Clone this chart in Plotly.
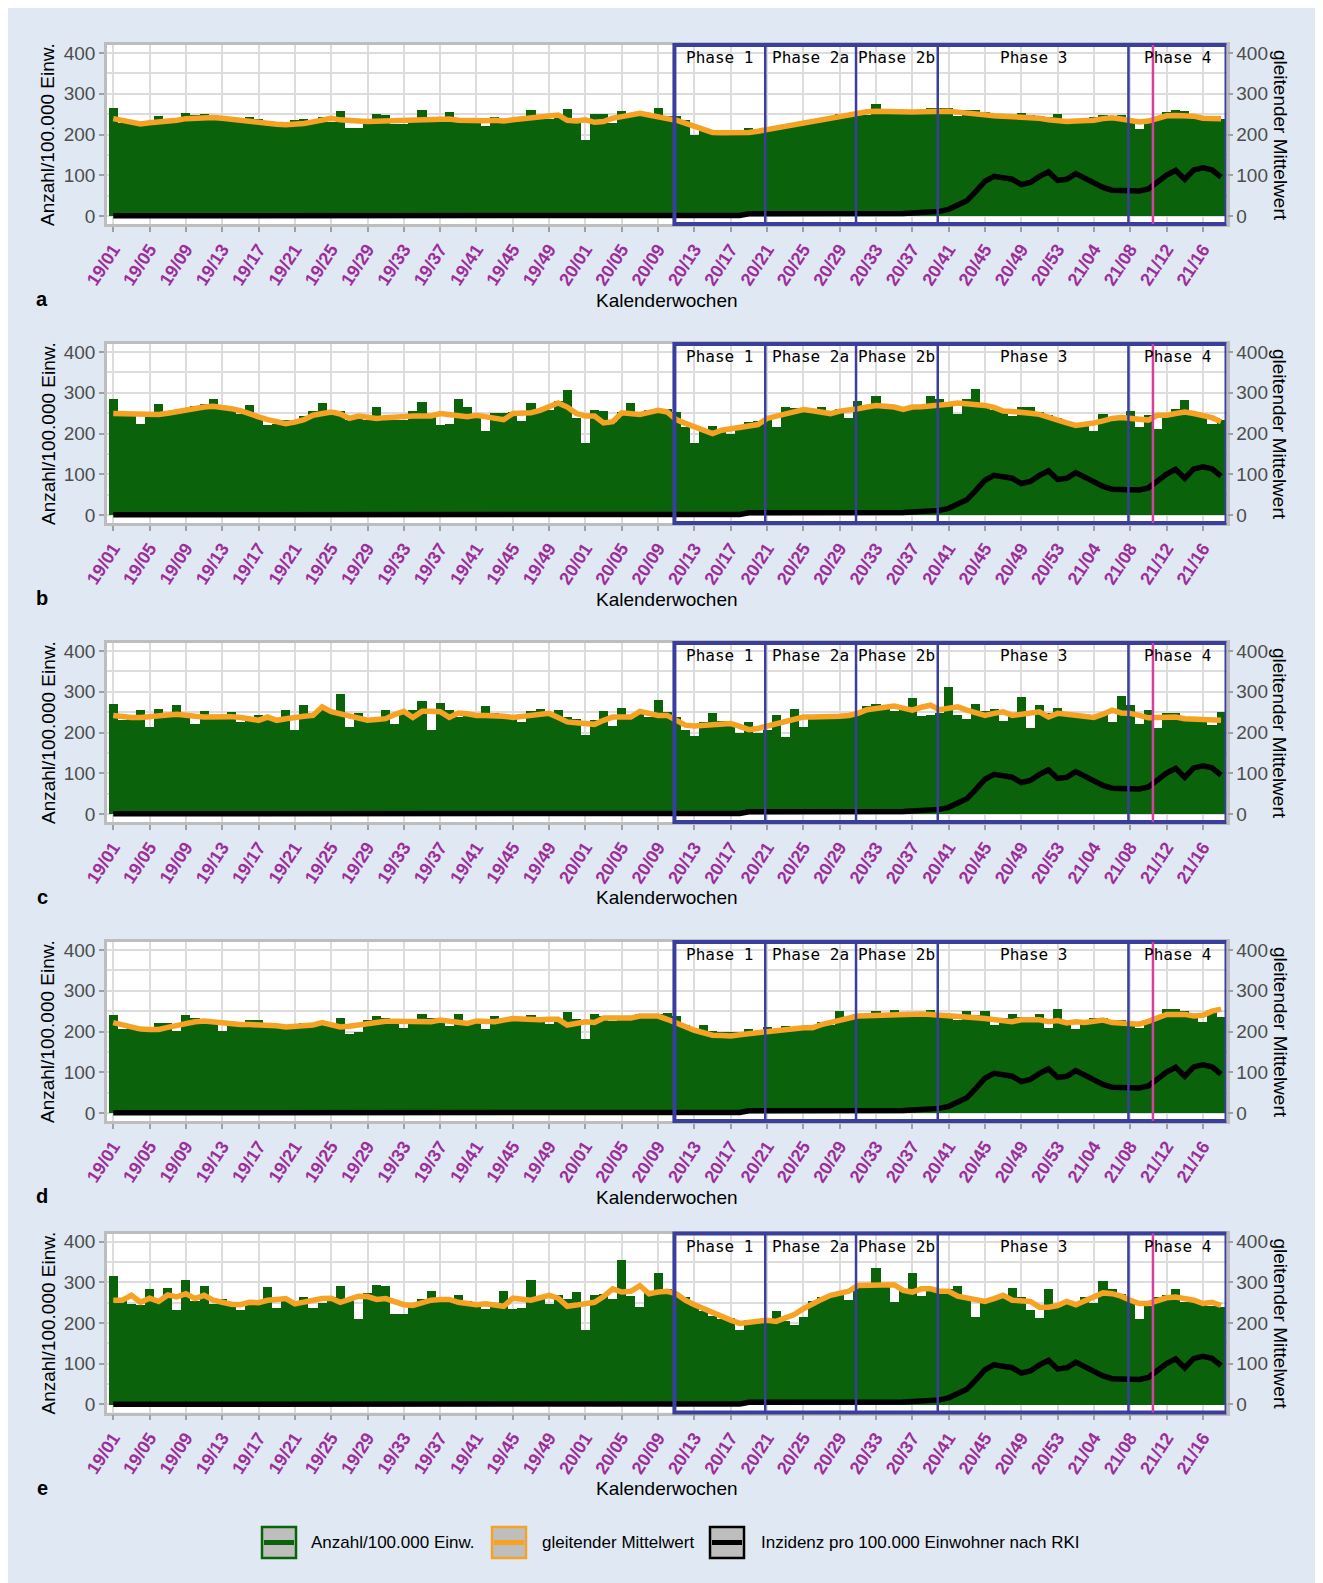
import plotly.graph_objects as go

# ---------------- data ----------------
weeks = ([f"19/{w:02d}" for w in range(1, 53)] +
         [f"20/{w:02d}" for w in range(1, 54)] +
         [f"21/{w:02d}" for w in range(1, 19)])
tick_weeks = weeks[::4]

panel_letters = ["a", "b", "c", "d", "e"]

anzahl_a = [266, 228, 228, 226, 230, 245, 231, 230, 253, 249,
            250, 247, 239, 236, 235, 243, 238, 231, 230, 230,
            235, 239, 235, 242, 231, 257, 217, 217, 231, 251,
            247, 227, 227, 231, 261, 233, 232, 255, 231, 231,
            232, 220, 243, 229, 231, 235, 260, 245, 239, 245,
            262, 235, 186, 250, 250, 229, 258, 250, 256, 250,
            264, 245, 246, 235, 200, 216, 207, 207, 207, 210,
            216, 211, 215, 219, 223, 227, 231, 235, 239, 243,
            251, 251, 247, 247, 276, 260, 260, 251, 255, 255,
            265, 264, 264, 245, 260, 260, 255, 251, 251, 247,
            253, 247, 245, 242, 251, 235, 235, 237, 242, 247,
            242, 247, 235, 213, 235, 237, 255, 260, 257, 243,
            243, 242, 239]
mittel_a = [239, 235, 230, 226, 229, 231, 231, 235, 239, 241,
            243, 242, 240, 237, 235, 233, 231, 228, 225, 224,
            225, 227, 231, 235, 240, 236, 233, 233, 232, 233,
            234, 235, 235, 235, 237, 237, 240, 238, 235, 234,
            236, 234, 235, 233, 236, 239, 241, 243, 245, 248,
            235, 233, 236, 230, 232, 240, 244, 247, 252, 248,
            245, 239, 235, 227, 219, 210, 205, 204, 204, 204,
            205, 208, 212, 216, 220, 224, 228, 232, 236, 240,
            244, 248, 255, 256, 257, 256, 254, 253, 255, 256,
            257, 257, 257, 255, 252, 249, 247, 246, 245, 244,
            243, 242, 240, 236, 233, 232, 233, 233, 235, 239,
            241, 238, 235, 231, 233, 240, 246, 247, 247, 245,
            240, 239, 239]

anzahl_b = [284, 245, 245, 223, 249, 272, 253, 257, 261, 267,
            272, 286, 265, 264, 249, 269, 239, 220, 224, 234,
            226, 242, 255, 274, 257, 255, 234, 239, 234, 266,
            239, 233, 233, 255, 277, 249, 221, 224, 286, 264,
            249, 207, 251, 251, 253, 231, 275, 261, 257, 280,
            308, 237, 177, 257, 255, 229, 253, 274, 253, 257,
            260, 260, 253, 216, 177, 208, 218, 208, 200, 219,
            229, 231, 237, 216, 266, 263, 261, 257, 264, 249,
            260, 239, 279, 265, 292, 269, 267, 257, 267, 269,
            291, 284, 273, 247, 284, 309, 273, 257, 253, 242,
            264, 264, 253, 245, 237, 229, 223, 220, 207, 249,
            241, 239, 256, 216, 245, 211, 249, 261, 282, 253,
            245, 224, 233]
mittel_b = [249, 248, 247, 247, 247, 247, 250, 254, 259, 262,
            265, 267, 265, 261, 256, 247, 241, 234, 228, 224,
            228, 234, 245, 250, 253, 248, 237, 243, 240, 237,
            239, 241, 242, 243, 243, 243, 249, 246, 243, 241,
            245, 241, 237, 234, 249, 250, 251, 257, 265, 275,
            265, 249, 243, 243, 226, 229, 251, 249, 247, 252,
            257, 253, 234, 225, 216, 208, 200, 208, 211, 214,
            220, 222, 237, 243, 249, 254, 259, 256, 253, 249,
            255, 257, 261, 265, 269, 267, 265, 259, 265, 266,
            267, 269, 272, 275, 273, 272, 269, 264, 255, 254,
            253, 250, 247, 239, 231, 226, 220, 222, 226, 231,
            237, 239, 237, 233, 233, 245, 245, 249, 253, 249,
            245, 239, 229]

anzahl_c = [269, 230, 238, 255, 214, 259, 238, 267, 247, 222,
            252, 238, 238, 251, 226, 238, 242, 234, 230, 256,
            206, 267, 247, 255, 255, 294, 214, 247, 234, 234,
            255, 222, 251, 255, 278, 206, 273, 255, 238, 247,
            247, 265, 247, 242, 238, 226, 252, 257, 247, 255,
            238, 234, 193, 230, 252, 216, 260, 238, 247, 238,
            279, 251, 238, 206, 191, 226, 248, 229, 226, 199,
            226, 199, 206, 242, 188, 257, 214, 238, 238, 242,
            238, 242, 247, 265, 271, 267, 252, 259, 285, 240,
            242, 247, 312, 242, 234, 271, 253, 259, 229, 247,
            287, 212, 267, 247, 260, 245, 247, 242, 238, 247,
            226, 290, 267, 222, 255, 210, 248, 249, 238, 234,
            234, 218, 251]
mittel_c = [242, 238, 237, 237, 240, 242, 243, 245, 244, 240,
            238, 239, 240, 239, 237, 235, 230, 238, 230, 234,
            238, 240, 242, 263, 251, 246, 242, 236, 230, 232,
            234, 244, 252, 237, 252, 252, 251, 237, 248, 246,
            242, 242, 242, 240, 237, 240, 242, 245, 247, 237,
            226, 224, 222, 220, 230, 238, 238, 238, 252, 247,
            242, 242, 230, 218, 216, 217, 218, 220, 222, 215,
            207, 210, 216, 222, 227, 232, 238, 238, 238, 238,
            240, 242, 247, 256, 260, 263, 265, 260, 255, 262,
            267, 256, 260, 263, 255, 247, 242, 247, 251, 242,
            245, 248, 251, 238, 247, 245, 242, 240, 237, 245,
            255, 248, 247, 242, 236, 237, 238, 238, 234, 233,
            232, 231, 230]

anzahl_d = [240, 207, 211, 201, 203, 220, 220, 202, 240, 234,
            228, 229, 201, 220, 220, 229, 229, 216, 211, 211,
            216, 221, 217, 222, 221, 233, 193, 198, 228, 237,
            234, 224, 209, 224, 244, 234, 224, 213, 242, 224,
            228, 205, 238, 224, 232, 232, 240, 230, 218, 229,
            248, 230, 181, 244, 238, 225, 236, 236, 244, 244,
            244, 246, 238, 216, 203, 216, 201, 199, 198, 199,
            205, 201, 211, 207, 214, 209, 211, 216, 224, 215,
            251, 236, 242, 242, 250, 240, 252, 236, 240, 244,
            253, 244, 240, 228, 250, 240, 250, 217, 232, 242,
            236, 232, 244, 209, 256, 224, 207, 224, 234, 232,
            229, 229, 224, 209, 224, 236, 256, 256, 250, 240,
            224, 254, 236]
mittel_d = [222, 216, 211, 206, 205, 205, 210, 215, 220, 224,
            226, 224, 220, 217, 217, 217, 217, 216, 214, 211,
            212, 214, 216, 222, 216, 211, 213, 216, 220, 224,
            225, 225, 224, 224, 224, 224, 228, 226, 224, 220,
            226, 224, 224, 228, 232, 231, 229, 229, 230, 230,
            216, 220, 224, 222, 233, 233, 233, 233, 238, 238,
            238, 230, 220, 212, 203, 197, 191, 190, 189, 192,
            195, 198, 201, 203, 205, 207, 209, 209, 217, 223,
            228, 233, 238, 239, 240, 241, 242, 243, 244, 243,
            242, 241, 240, 238, 236, 234, 232, 230, 229, 224,
            229, 229, 229, 224, 227, 221, 224, 222, 225, 228,
            222, 220, 218, 218, 225, 233, 242, 242, 242, 238,
            240, 250, 255]

anzahl_e = [318, 256, 247, 245, 286, 256, 288, 233, 306, 256,
            291, 249, 261, 243, 233, 251, 253, 290, 239, 258,
            256, 266, 237, 251, 266, 292, 256, 212, 276, 294,
            291, 224, 224, 243, 260, 280, 260, 260, 269, 256,
            254, 235, 247, 280, 235, 239, 307, 261, 249, 269,
            260, 278, 184, 269, 272, 260, 356, 268, 241, 276,
            323, 284, 272, 264, 244, 231, 219, 211, 213, 185,
            209, 207, 207, 231, 207, 196, 215, 256, 264, 264,
            274, 258, 290, 296, 337, 292, 253, 284, 323, 268,
            284, 280, 284, 291, 268, 215, 261, 261, 270, 288,
            265, 234, 213, 284, 240, 247, 251, 265, 251, 304,
            286, 272, 256, 211, 244, 264, 270, 286, 254, 256,
            248, 244, 240]
mittel_e = [256, 256, 268, 251, 261, 253, 269, 264, 272, 260,
            268, 256, 251, 246, 245, 251, 250, 256, 258, 260,
            247, 252, 258, 260, 261, 251, 258, 266, 265, 258,
            260, 252, 245, 243, 250, 256, 258, 258, 251, 248,
            245, 247, 244, 241, 261, 258, 256, 262, 268, 261,
            241, 244, 247, 251, 265, 284, 276, 278, 292, 272,
            276, 278, 272, 256, 245, 235, 225, 215, 207, 199,
            201, 204, 207, 204, 212, 221, 235, 248, 258, 268,
            273, 278, 292, 292, 292, 293, 294, 280, 276, 284,
            284, 278, 278, 266, 261, 256, 253, 260, 268, 256,
            255, 253, 239, 239, 243, 253, 245, 255, 264, 274,
            272, 266, 256, 248, 248, 256, 262, 264, 260, 256,
            248, 251, 243]

inzidenz = [0, 0, 0, 0, 0, 0, 0, 0, 0, 0,
            0, 0, 0, 0, 0, 0, 0, 0, 0, 0,
            0, 0, 0, 0, 0, 0, 0, 0, 0, 0,
            0, 0, 0, 0, 0, 0, 0, 0, 0, 0,
            0, 0, 0, 0, 0, 0, 0, 0, 0, 0,
            0, 0, 0, 0, 0, 0, 0, 0, 0, 0,
            0, 0, 1, 1, 1, 1, 1, 1, 1, 1,
            5, 5, 5, 5, 5, 5, 4, 4, 3, 3,
            3, 3, 4, 4, 5, 5, 6, 6, 7, 8,
            10, 11, 16, 25, 37, 60, 85, 97, 92, 90,
            77, 82, 97, 108, 87, 90, 104, 92, 79, 70,
            63, 63, 64, 61, 66, 84, 100, 112, 90, 113,
            118, 113, 95]

phase_names = ["Phase 1", "Phase 2a", "Phase 2b", "Phase 3", "Phase 4"]
phase_start_weeks = ["20/11", "20/21", "20/31", "20/40", "21/08"]
marker_week = "21/11"

series_names = ["Anzahl/100.000 Einw.", "gleitender Mittelwert",
                "Inzidenz pro 100.000 Einwohner nach RKI"]

anzahl = [anzahl_a, anzahl_b, anzahl_c, anzahl_d, anzahl_e]
mittel = [mittel_a, mittel_b, mittel_c, mittel_d, mittel_e]

# ---------------- style ----------------
W, H = 1323, 1583
OFF = 8  # page body margin offset
FONT = "Liberation Sans, Arial, sans-serif"
GREEN = "#0A630A"
ORANGE = "#F6A224"
BLACK = "#000000"
BLUE = "#3A3E9C"
MAGENTA = "#D5409E"
PURPLE = "#9B2E9B"
BG = "#DFE8F3"
GRID = "#DCDCDC"
BORDER = "#BDBDBD"
TICKGRAY = "#4D4D4D"

tops = [45 - OFF, 344 - OFF, 643 - OFF, 942 - OFF, 1233.5 - OFF]
PH = 179
X0, X1 = 107 - OFF, 1226.5 - OFF
XR = [-0.69, 122.6]


def fx(px):
    return px / W


def fy(py):
    return 1 - py / H


# phase boundaries in category-index units
phase_left = [weeks.index(w) - 0.2 for w in phase_start_weeks]
phase_right = len(weeks) - 1 + 0.6
phase_edges = phase_left + [phase_right]
marker_x = weeks.index(marker_week) - 0.5

fig = go.Figure()
layout = dict(width=W, height=H, margin=dict(l=0, r=0, t=0, b=0, pad=0, autoexpand=False),
              paper_bgcolor=BG, plot_bgcolor="white", bargap=0,
              showlegend=False, font=dict(family=FONT, color="black"))
shapes = []
annotations = []

for k in range(5):
    n = k + 1
    xa = "x" if n == 1 else f"x{n}"
    ya = "y" if n == 1 else f"y{n}"
    ya2 = f"y{n + 5}"
    T = tops[k]

    fig.add_trace(go.Bar(x=weeks, y=anzahl[k], marker=dict(color=GREEN, line=dict(width=0)),
                         xaxis=xa, yaxis=ya, name=series_names[0]))
    fig.add_trace(go.Scatter(x=weeks, y=mittel[k], mode="lines",
                             line=dict(color=ORANGE, width=5.5), xaxis=xa, yaxis=ya2,
                             name=series_names[1]))
    fig.add_trace(go.Scatter(x=weeks, y=inzidenz, mode="lines",
                             line=dict(color=BLACK, width=5.5), xaxis=xa, yaxis=ya2,
                             name=series_names[2]))

    xkey = "xaxis" if n == 1 else f"xaxis{n}"
    ykey = "yaxis" if n == 1 else f"yaxis{n}"
    layout[xkey] = dict(domain=[fx(X0), fx(X1)], anchor=ya, type="category",
                        categoryorder="array", categoryarray=weeks, range=XR,
                        tickmode="array", tickvals=tick_weeks, ticktext=tick_weeks,
                        tickangle=-57, automargin=False,
                        tickfont=dict(family=FONT, size=18, color=PURPLE, weight="bold"),
                        ticks="outside", ticklen=5, tickwidth=1.5, tickcolor="#A0A0A0",
                        showgrid=True, gridcolor=GRID, gridwidth=1.5,
                        showline=True, linecolor=BORDER, linewidth=2.5, mirror=True,
                        zeroline=False, fixedrange=True)
    layout[ykey] = dict(domain=[fy(T + PH), fy(T)], anchor=xa, range=[-20, 420],
                        tick0=0, dtick=100, ticks="outside", ticklen=5, tickwidth=1.5,
                        tickcolor="#A0A0A0", automargin=False,
                        tickfont=dict(family=FONT, size=19, color=TICKGRAY),
                        showgrid=True, gridcolor=GRID, gridwidth=1.5,
                        minor=dict(tick0=0, dtick=50, showgrid=True, gridcolor=GRID,
                                   gridwidth=1.5),
                        zeroline=False, showline=True, linecolor=BORDER, linewidth=2.5,
                        mirror=True)
    layout[f"yaxis{n + 5}"] = dict(overlaying=ya, side="right", anchor=xa, range=[-20, 420],
                                   tick0=0, dtick=100, ticks="outside", ticklen=5,
                                   tickwidth=1.5, tickcolor="#A0A0A0", automargin=False,
                                   tickfont=dict(family=FONT, size=19, color=TICKGRAY),
                                   showgrid=False, zeroline=False, showline=False)

    # phase box
    shapes.append(dict(type="rect", xref=xa, yref=f"{ya} domain",
                       x0=phase_edges[0], x1=phase_edges[-1], y0=0, y1=1,
                       line=dict(color=BLUE, width=4), fillcolor="rgba(0,0,0,0)",
                       layer="above"))
    for xe in phase_edges[1:-1]:
        shapes.append(dict(type="line", xref=xa, yref=f"{ya} domain",
                           x0=xe, x1=xe, y0=0, y1=1,
                           line=dict(color=BLUE, width=2.5), layer="above"))
    shapes.append(dict(type="line", xref=xa, yref=f"{ya} domain",
                       x0=marker_x, x1=marker_x, y0=0, y1=1,
                       line=dict(color=MAGENTA, width=2.5), layer="above"))
    for j, name in enumerate(phase_names):
        annotations.append(dict(text=name, xref=xa, yref=f"{ya} domain",
                                x=(phase_edges[j] + phase_edges[j + 1]) / 2, y=0.93,
                                showarrow=False, xanchor="center", yanchor="middle",
                                font=dict(family="DejaVu Sans Mono, monospace", size=16,
                                          color="black")))

    # axis titles / letters
    annotations.append(dict(text="Anzahl/100.000 Einw.", xref="paper", yref="paper",
                            x=fx(48 - OFF), y=fy(T + 90), textangle=-90, showarrow=False,
                            xanchor="center", yanchor="middle",
                            font=dict(family=FONT, size=19, color="black")))
    annotations.append(dict(text="gleitender Mittelwert", xref="paper", yref="paper",
                            x=fx(1280 - OFF), y=fy(T + 90), textangle=90, showarrow=False,
                            xanchor="center", yanchor="middle",
                            font=dict(family=FONT, size=19, color="black")))
    annotations.append(dict(text="Kalenderwochen", xref="paper", yref="paper",
                            x=fx((X0 + X1) / 2), y=fy(T + 255), showarrow=False,
                            xanchor="center", yanchor="middle",
                            font=dict(family=FONT, size=19, color="black")))
    annotations.append(dict(text=f"<b>{panel_letters[k]}</b>", xref="paper", yref="paper",
                            x=fx(42 - OFF), y=fy(T + 254), showarrow=False,
                            xanchor="center", yanchor="middle",
                            font=dict(family=FONT, size=20, color="black")))

# manual legend
leg_colors = [GREEN, ORANGE, BLACK]
leg_box_x = [262 - OFF, 492 - OFF, 710 - OFF]
leg_text_x = [309 - OFF, 540 - OFF, 759 - OFF]
ly0, ly1 = 1527 - OFF, 1558 - OFF
for j in range(3):
    bx = leg_box_x[j]
    shapes.append(dict(type="rect", xref="paper", yref="paper",
                       x0=fx(bx), x1=fx(bx + 34), y0=fy(ly1), y1=fy(ly0),
                       fillcolor="#BEBEBE", line=dict(color=leg_colors[j], width=2.5)))
    shapes.append(dict(type="line", xref="paper", yref="paper",
                       x0=fx(bx + 2), x1=fx(bx + 32), y0=fy((ly0 + ly1) / 2),
                       y1=fy((ly0 + ly1) / 2),
                       line=dict(color=leg_colors[j], width=5)))
    annotations.append(dict(text=series_names[j], xref="paper", yref="paper",
                            x=fx(leg_text_x[j]), y=fy((ly0 + ly1) / 2), showarrow=False,
                            xanchor="left", yanchor="middle",
                            font=dict(family=FONT, size=17, color="black")))

layout["shapes"] = shapes
layout["annotations"] = annotations
fig.update_layout(**layout)
fig.write_html("out.html")
